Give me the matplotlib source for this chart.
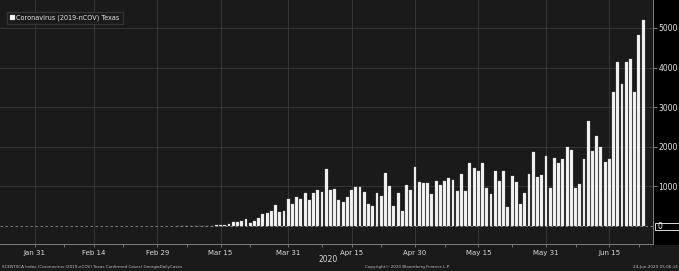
import numpy as np
import pandas as pd
import matplotlib.pyplot as plt
import matplotlib.dates as mdates
from matplotlib.patches import Rectangle

# Casos diarios confirmados en Texas (lectura aproximada del grafico)
inicio = '2020-03-05'
casos = [1, 2, 0, 3, 2, 4, 5, 8, 11, 13, 15,
         30, 60, 95, 100, 135, 168, 76, 126, 202, 290,
         337, 379, 530, 354, 379, 673, 564, 724, 682, 842,
         657, 842, 900, 859, 1439, 909, 934, 665, 606, 741,
         909, 976, 985, 859, 564, 513, 833, 766, 1347, 1002,
         513, 825, 370, 1044, 909, 1490, 1120, 1094, 1094, 800,
         1136, 1027, 1128, 1204, 1162, 884, 1305, 892, 1599, 1473,
         1397, 1599, 951, 800, 1380, 1136, 1397, 488, 1254, 1103,
         556, 833, 1321, 1869, 1246, 1279, 1768, 951, 1717, 1582,
         1684, 2003, 1928, 951, 1061, 1684, 2660, 1894, 2273, 2003,
         1625, 1692, 3376, 4150, 3578, 4150, 4209, 3376, 4815, 5202]

fechasEtiquetas = ['2020-01-31', '2020-02-14', '2020-02-29', '2020-03-15', '2020-03-31',
                   '2020-04-15', '2020-04-30', '2020-05-15', '2020-05-31', '2020-06-15']
textosEtiquetas = ['Jan 31', 'Feb 14', 'Feb 29', 'Mar 15', 'Mar 31',
                   'Apr 15', 'Apr 30', 'May 15', 'May 31', 'Jun 15']
fechasMenores = ['2020-02-07', '2020-02-21', '2020-03-07', '2020-03-22', '2020-04-08',
                 '2020-04-22', '2020-05-07', '2020-05-23', '2020-06-07', '2020-06-22']
valoresY = [1000, 2000, 3000, 4000, 5000]

leyenda = 'Coronavirus (2019-nCOV) Texas'
pie = 'SCENTXCA Index (Coronavirus (2019-nCOV) Texas Confirmed Cases) GeorgiaDailyCases'

fechas = mdates.date2num(pd.date_range(inicio, periods=len(casos)))

fondo = '#1a1a1a'
fig = plt.figure(figsize=(6.79, 2.71), dpi=100, facecolor=fondo)
ax = fig.add_axes([0, 27/271, 653/679, 244/271], facecolor=fondo)

# franja negra a la derecha
fig.add_artist(Rectangle((653/679, 26/271), 26/679, 245/271, transform=fig.transFigure,
                         facecolor='black', edgecolor='none', zorder=-1))

ax.grid(True, color='#3a3a3a', linewidth=0.6)
ax.set_axisbelow(True)
ax.axhline(0, color='#8c8c8c', linewidth=0.6, linestyle=(0, (3, 3)), zorder=1)
ax.bar(fechas, casos, width=0.68, color='#f4f4f4', edgecolor='#bdbdbd', linewidth=0.2,
       label=leyenda, zorder=2)

ax.set_xlim(mdates.date2num(pd.Timestamp('2020-01-22 19:00')),
            mdates.date2num(pd.Timestamp('2020-06-25 08:00')))
ax.set_ylim(-455, 5707)

ax.set_xticks(mdates.date2num(pd.to_datetime(fechasEtiquetas)))
ax.set_xticklabels(textosEtiquetas)
ax.set_xticks(mdates.date2num(pd.to_datetime(fechasMenores)), minor=True)
ax.tick_params(axis='x', which='both', colors='#7f7f7f', labelcolor='#dcdcdc',
               labelsize=5, length=2.5, width=0.6, pad=2)

ax.yaxis.tick_right()
ax.set_yticks(valoresY)
ax.set_yticklabels([str(v) for v in valoresY])
ax.tick_params(axis='y', colors='#9a9a9a', labelcolor='#e6e6e6', labelsize=5.5,
               length=3, width=0.6, pad=1)

for lado in ['left', 'top']:
    ax.spines[lado].set_visible(False)
for lado in ['right', 'bottom']:
    ax.spines[lado].set_color('#7f7f7f')
    ax.spines[lado].set_linewidth(0.7)

leg = ax.legend(loc='upper left', bbox_to_anchor=(7/653, 1 - 12/244), fontsize=4.7,
                facecolor=fondo, edgecolor='#333333', labelcolor='#e6e6e6',
                handlelength=0.7, handleheight=0.7, handletextpad=0.3,
                borderpad=0.45, borderaxespad=0, fancybox=False, framealpha=1)

# etiqueta del ultimo valor en cero
fig.add_artist(Rectangle((655/679, 41/271), 24/679, 7/271, transform=fig.transFigure,
                         facecolor='black', edgecolor='white', linewidth=0.6))
fig.text(658/679, 1 - 226.5/271, '0', fontsize=5.5, color='white', ha='left', va='center')

fig.text(328/679, 1 - 260/271, '2020', fontsize=5.5, color='#d8d8d8', ha='center', va='center')
fig.text(2/679, 1 - 267/271, pie, fontsize=3, color='#bbbbbb', ha='left', va='center')
fig.text(407/679, 1 - 267/271, 'Copyright© 2020 Bloomberg Finance L.P.', fontsize=3,
         color='#bbbbbb', ha='center', va='center')
fig.text(678/679, 1 - 267/271, '24-Jun-2020 05:06:14', fontsize=3, color='#bbbbbb',
         ha='right', va='center')

fig.savefig('out.png', dpi=100, facecolor=fondo)
